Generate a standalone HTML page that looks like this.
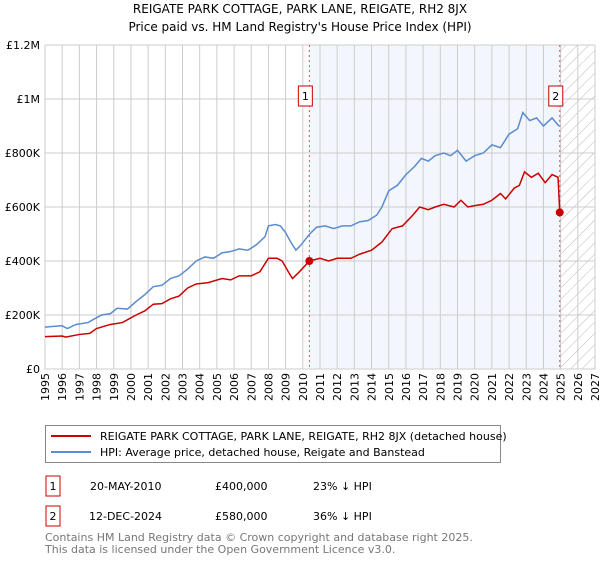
<!DOCTYPE html>
<html><head><meta charset="utf-8"><style>
body{margin:0;background:#fff;font-family:"DejaVu Sans","Liberation Sans",sans-serif;}
</style></head><body>
<svg id="chart" width="600" height="560" xmlns="http://www.w3.org/2000/svg" font-family="DejaVu Sans, Liberation Sans, sans-serif">
<defs><pattern id="hatch" width="8" height="8" patternUnits="userSpaceOnUse" patternTransform="rotate(45)"><line x1="0" y1="0" x2="0" y2="8" stroke="#bbb" stroke-width="1"/></pattern></defs>
<text x="300" y="13" text-anchor="middle" font-size="12">REIGATE PARK COTTAGE, PARK LANE, REIGATE, RH2 8JX</text>
<text x="300" y="31" text-anchor="middle" font-size="12">Price paid vs. HM Land Registry's House Price Index (HPI)</text>
<g id="plot"></g>
<g>
<rect x="45.5" y="425.5" width="455" height="37" fill="#fff" stroke="#888"/>
<line x1="51" y1="436" x2="91" y2="436" stroke="#cc0000" stroke-width="2"/>
<text x="100" y="440" font-size="11">REIGATE PARK COTTAGE, PARK LANE, REIGATE, RH2 8JX (detached house)</text>
<line x1="51" y1="452" x2="91" y2="452" stroke="#5b8bd0" stroke-width="2"/>
<text x="100" y="456" font-size="11">HPI: Average price, detached house, Reigate and Banstead</text>
</g>
<g font-size="11">
<rect x="46" y="476" width="14" height="20" fill="#fff" stroke="#cc0000"/><text x="53" y="490" text-anchor="middle">1</text>
<text x="90" y="490">20-MAY-2010</text><text x="215" y="490">£400,000</text><text x="313" y="490">23% ↓ HPI</text>
<rect x="46" y="506" width="14" height="20" fill="#fff" stroke="#cc0000"/><text x="53" y="520" text-anchor="middle">2</text>
<text x="89" y="520">12-DEC-2024</text><text x="215" y="520">£580,000</text><text x="313" y="520">36% ↓ HPI</text>
</g>
<g font-size="11" fill="#777">
<text x="45" y="541">Contains HM Land Registry data © Crown copyright and database right 2025.</text>
<text x="45" y="553">This data is licensed under the Open Government Licence v3.0.</text>
</g>
</svg>
<script>
const hpiYears=[1995.0,1995.5,1996.0,1996.3,1996.8,1997.5,1998.0,1998.3,1998.8,1999.2,1999.8,2000.3,2000.8,2001.3,2001.8,2002.3,2002.8,2003.3,2003.8,2004.3,2004.8,2005.3,2005.8,2006.3,2006.8,2007.3,2007.8,2008.0,2008.4,2008.7,2009.0,2009.3,2009.6,2009.9,2010.4,2010.8,2011.3,2011.8,2012.3,2012.8,2013.3,2013.8,2014.3,2014.6,2015.0,2015.5,2016.0,2016.5,2016.9,2017.3,2017.7,2018.2,2018.6,2019.0,2019.5,2020.0,2020.5,2021.0,2021.5,2022.0,2022.5,2022.8,2023.2,2023.6,2024.0,2024.5,2024.9];
const hpiValues=[155,158,160,150,165,172,190,200,205,225,222,250,275,305,310,335,345,370,400,415,410,430,435,445,440,460,490,530,535,530,505,470,440,460,500,525,530,520,530,530,545,550,570,600,660,680,720,750,780,770,790,800,790,810,770,790,800,830,820,870,890,950,920,930,900,930,900];
const priceYears=[1995,1996,1996.2,1997,1997.6,1998,1998.8,1999.5,2000.3,2000.8,2001.3,2001.8,2002.3,2002.8,2003.3,2003.8,2004.5,2005.3,2005.8,2006.3,2007,2007.5,2008.0,2008.5,2008.8,2009.2,2009.4,2009.8,2010.38,2011,2011.5,2012,2012.8,2013.3,2014,2014.6,2015.2,2015.8,2016.4,2016.8,2017.3,2017.7,2018.2,2018.8,2019.2,2019.6,2020.0,2020.5,2021.0,2021.5,2021.8,2022.3,2022.6,2022.9,2023.3,2023.7,2024.1,2024.5,2024.85,2024.95];
const priceValues=[120,122,118,128,132,150,165,172,200,215,240,242,260,270,300,315,320,335,330,345,345,360,410,410,400,355,335,360,400,410,400,410,410,425,440,470,520,530,570,600,590,600,610,600,625,600,605,610,625,650,630,670,680,730,710,725,690,720,710,580];
const saleYears=[2010.38,2024.95];
const saleValues=[400,580];
const saleLabels=["1","2"];
const yTicks=[0,200,400,600,800,1000,1200];
const yTickLabels=["£0","£200K","£400K","£600K","£800K","£1M","£1.2M"];
const xTicks=[1995,1996,1997,1998,1999,2000,2001,2002,2003,2004,2005,2006,2007,2008,2009,2010,2011,2012,2013,2014,2015,2016,2017,2018,2019,2020,2021,2022,2023,2024,2025,2026,2027];

const L=45,R=595,T=45,B=369;
const x=v=>L+(v-1995)/(2027-1995)*(R-L);
const y=v=>B-v/1200*(B-T);
const NS="http://www.w3.org/2000/svg";
const g=document.getElementById('plot');
function mk(tag,attrs,parent){const e=document.createElementNS(NS,tag);for(const k in attrs)e.setAttribute(k,attrs[k]);(parent||g).appendChild(e);return e;}
let e;
e=mk('rect',{x:x(saleYears[0]),y:T,width:x(saleYears[1])-x(saleYears[0]),height:B-T,fill:'#eef3fc',opacity:0.7});


e=mk('rect',{x:x(saleYears[1]),y:T,width:R-x(saleYears[1]),height:B-T,fill:'url(#hatch)'});


xTicks.forEach(t=>{
 e=mk('line',{x1:x(t),x2:x(t),y1:T,y2:B,stroke:'#ccc','stroke-width':1});
 
 
 e=mk('text',{x:0,y:0,'font-size':11,'text-anchor':'end',transform:`translate(${x(t)+4},${B+4}) rotate(-90)`});
 e.textContent=t;
 
 
});
yTicks.forEach((t,i)=>{
 e=mk('line',{x1:L,x2:R,y1:y(t),y2:y(t),stroke:'#ccc','stroke-width':1});
 
 
 e=mk('text',{x:L-5,y:y(t)+4,'font-size':11,'text-anchor':'end'});
 e.textContent=yTickLabels[i];
 
 
});
saleYears.forEach(s=>{
 e=mk('line',{x1:x(s),x2:x(s),y1:T,y2:B,stroke:'#e05050','stroke-width':1,'stroke-dasharray':'2,3'});
 
 
});
e=mk('polyline',{points:hpiYears.map((v,i)=>x(v)+','+y(hpiValues[i])).join(' '),fill:'none',stroke:'#5b8bd0','stroke-width':1.5});


e=mk('polyline',{points:priceYears.map((v,i)=>x(v)+','+y(priceValues[i])).join(' '),fill:'none',stroke:'#cc0000','stroke-width':1.5});


saleYears.forEach((s,i)=>{
 e=mk('circle',{cx:x(s),cy:y(saleValues[i]),r:4,fill:'#cc0000'});
 
 
 e=mk('rect',{x:x(s)-11,y:86,width:14,height:20,fill:'#fff',stroke:'#cc0000'});
 
 
 e=mk('text',{x:x(s)-4,y:100,'font-size':11,'text-anchor':'middle'});
 e.textContent=saleLabels[i];
 
 
});
</script>
</body></html>
